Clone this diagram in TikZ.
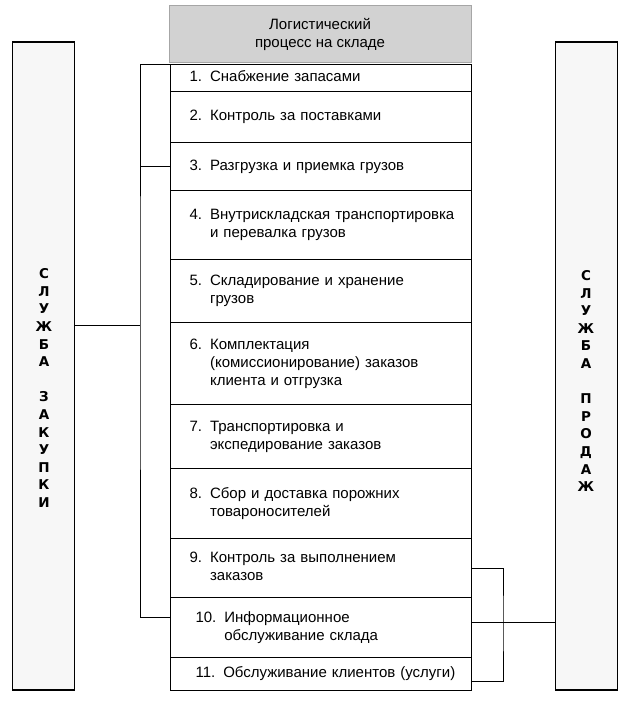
\documentclass[tikz,border=0pt]{standalone}
\usepackage{fontspec}
\setmainfont{Liberation Sans}[BoldFont={Liberation Sans Bold}]
\newfontfamily\sidefont{DejaVu Sans}
\usepackage{xcolor}
\usepackage{tikz}

\begin{document}
\begin{tikzpicture}[x=1pt, y=-1pt,
  row/.style={draw, line width=1.1pt, anchor=north west, inner xsep=19pt, inner ysep=0pt,
    text width=263pt, align=left, font=\fontsize{15}{18}\selectfont},
  head/.style={draw=gray!70, fill=gray!35, minimum width=302pt, minimum height=57pt,
    align=center, font=\fontsize{15}{18}\selectfont},
  side/.style={draw, line width=1.1pt, fill=gray!6, minimum width=62pt, minimum height=648pt},
  letters/.style={align=center, font=\sidefont\bfseries\fontsize{13.5}{17.6}\selectfont},
  link/.style={line width=0.8pt}
]
\useasboundingbox (0,0) rectangle (627,710);
\node[head] (head) at (320,34) {Логистический\\процесс на складе};
\node[row, minimum height=27pt] (r1) at (170,64) {\begin{tabular}{@{}l@{\hspace{8pt}}l@{}}1.&Снабжение запасами\end{tabular}};
\node[row, minimum height=51pt] (r2) at (170,91) {\begin{tabular}{@{}l@{\hspace{8pt}}l@{}}2.&Контроль за поставками\end{tabular}};
\node[row, minimum height=48pt] (r3) at (170,142) {\begin{tabular}{@{}l@{\hspace{8pt}}l@{}}3.&Разгрузка и приемка грузов\end{tabular}};
\node[row, minimum height=69pt] (r4) at (170,190) {\begin{tabular}{@{}l@{\hspace{8pt}}l@{}}4.&Внутрискладская транспортировка\\&и перевалка грузов\end{tabular}};
\node[row, minimum height=63pt] (r5) at (170,259) {\begin{tabular}{@{}l@{\hspace{8pt}}l@{}}5.&Складирование и хранение\\&грузов\end{tabular}};
\node[row, minimum height=82pt] (r6) at (170,322) {\begin{tabular}{@{}l@{\hspace{8pt}}l@{}}6.&Комплектация\\&(комиссионирование) заказов\\&клиента и отгрузка\end{tabular}};
\node[row, minimum height=64pt] (r7) at (170,404) {\begin{tabular}{@{}l@{\hspace{8pt}}l@{}}7.&Транспортировка и\\&экспедирование заказов\end{tabular}};
\node[row, minimum height=70pt] (r8) at (170,468) {\begin{tabular}{@{}l@{\hspace{8pt}}l@{}}8.&Сбор и доставка порожних\\&товароносителей\end{tabular}};
\node[row, minimum height=59pt] (r9) at (170,538) {\begin{tabular}{@{}l@{\hspace{8pt}}l@{}}9.&Контроль за выполнением\\&заказов\end{tabular}};
\node[row, minimum height=60pt] (r10) at (170,597) {\hspace*{6pt}\begin{tabular}{@{}l@{\hspace{8pt}}l@{}}10.&Информационное\\&обслуживание склада\end{tabular}};
\node[row, minimum height=33pt] (r11) at (170,657) {\hspace*{6pt}\begin{tabular}{@{}l@{\hspace{8pt}}l@{}}11.&Обслуживание клиентов (услуги)\end{tabular}};

\node[side] (zak) at (43.5,366) {};
\node[side] (prod) at (586.5,366) {};
\node[letters] (zaktxt) at (44,388) {С\\Л\\У\\Ж\\Б\\А\\\mbox{}\\З\\А\\К\\У\\П\\К\\И};
\node[letters] (prodtxt) at (586,381) {С\\Л\\У\\Ж\\Б\\А\\\mbox{}\\П\\Р\\О\\Д\\А\\Ж};

\coordinate (lbar) at (140,325);
\coordinate (rbar) at (503,622);
\draw[link] (r1.north west) -| (lbar) |- ([yshift=10pt]r10.west);
\draw[link] (r3.west) -- (r3.west -| lbar);
\draw[link] (zak.east |- lbar) -- (lbar);
\draw[link] (r9.east) -| (rbar) |- ([yshift=-7.5pt]r11.east);
\draw[link] ([yshift=5pt]r10.east) -- ([yshift=5pt]r10.east -| prod.west);
\end{tikzpicture}
\end{document}
